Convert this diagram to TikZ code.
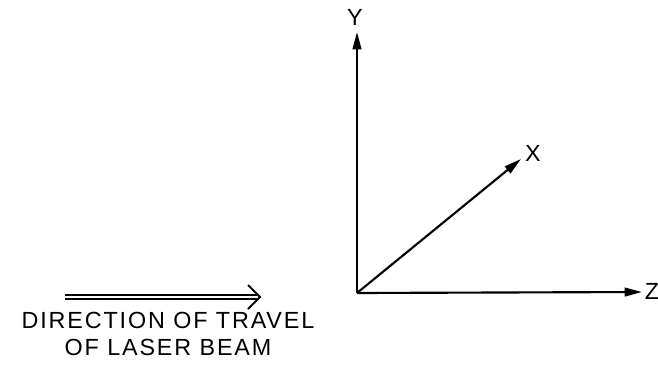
\documentclass[tikz,border=0pt]{standalone}
\usepackage{fontspec}
\setmainfont{Liberation Sans}
\newfontfamily\spacedfont[LetterSpace=8]{Liberation Sans}
\usetikzlibrary{arrows.meta}

\begin{document}
\begin{tikzpicture}[x=0.75pt,y=-0.75pt,
  axis/.style={line width=1.6pt,-{Triangle[length=13pt,width=6.5pt]}},
  axislabel/.style={font=\fontsize{17.5}{20}\selectfont,inner sep=0pt},
  beam/.style={double,line width=1.1pt,double distance=1.6pt}]
  \useasboundingbox (0,0) rectangle (658,368);
  % frame origin and axis ends
  \coordinate (O) at (357,293);
  \coordinate (ytip) at (357,32);
  \coordinate (xtip) at (521,159);
  \coordinate (ztip) at (642,292);
  % axis labels
  \node[axislabel] (ylabel) at (355,17) {Y};
  \node[axislabel] (xlabel) at (533,153) {X};
  \node[axislabel] (zlabel) at (652,291) {Z};
  % axes
  \draw[axis] (O) -- (ytip);
  \draw[axis] (O) -- (xtip);
  \draw[axis] (O) -- (ztip);
  % beam direction: double shaft, open head
  \coordinate (beamstart) at (65,297);
  \coordinate (beamtip) at (260,297);
  \draw[beam] (beamstart) -- ([xshift=-2]beamtip);
  \draw[line width=1.5pt,line join=miter] (beamtip) ++(-12,-12) -- (beamtip) -- ++(-12,12);
  \node[font=\spacedfont\fontsize{17.5}{20.25}\selectfont,align=center,inner sep=0pt]
    (caption) at (168,334) {DIRECTION OF TRAVEL\\OF LASER BEAM};
\end{tikzpicture}
\end{document}
